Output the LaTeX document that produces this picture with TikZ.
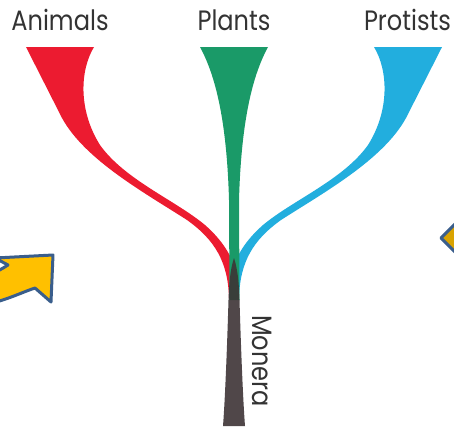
\documentclass[tikz,border=0pt]{standalone}
\usepackage{fontspec}
\setmainfont{Poppins}
\definecolor{cred}{HTML}{EC1B30}
\definecolor{cgreen}{HTML}{1A9A68}
\definecolor{cblue}{HTML}{22AEDE}
\definecolor{ctrunk}{HTML}{3D3436}
\definecolor{cyel}{HTML}{FFC000}
\definecolor{cyel2}{HTML}{D9A300}
\definecolor{cborder}{HTML}{3A5E8C}
\newcommand\sidebranch{(26,47) -- (62,118) .. controls (85,160) and (145,193) .. (187,220) .. controls (215,240) and (228,262) .. (229,298) -- (239,298) .. controls (239,270) and (231,248) .. (205,225) .. controls (175,200) and (125,180) .. (100,145) .. controls (78,110) and (80,70) .. (94,47) -- cycle}
\tikzset{
  labelbase/.style={font=\fontsize{28}{28}\selectfont, text=black!80, inner sep=0pt},
  label/.style={labelbase, anchor=base, xscale=0.86},
  arrowshape/.style={draw=cborder, line width=3pt, line join=round, fill=cyel}
}
\begin{document}
\begin{tikzpicture}[x=1pt,y=-1pt]
\useasboundingbox (0,0) rectangle (454,426);
\clip (0,0) rectangle (454,426);
\fill[white] (0,0) rectangle (454,426);
% side arrows
\path[arrowshape] (53,255) -- (-5,258) -- (8,265) .. controls (0,270) .. (-20,280) -- (-20,306) .. controls (5,301) and (20,293) .. (35,288) -- (51,302) -- cycle;
\path[arrowshape, fill=cyel2] (441,238) -- (456,223) -- (471,238) -- (456,253) -- cycle;
% branches
\fill[cred] \sidebranch;
\begin{scope}[shift={(468,0)}, xscale=-1]
\fill[cblue] \sidebranch;
\end{scope}
\fill[cgreen] (200,47) .. controls (218,80) and (227,130) .. (229,200) -- (229.5,300) -- (239.5,300) -- (239,200) .. controls (241,130) and (250,80) .. (268,47) -- cycle;
% trunk
\fill[ctrunk, opacity=0.9] (234,258) .. controls (230,270) and (229,285) .. (228.5,300) .. controls (227,350) and (225,400) .. (223,426) -- (245,426) .. controls (243,400) and (241,350) .. (239.5,300) .. controls (239,285) and (238,270) .. (234,258) -- cycle;
% labels
\node[label] (animals) at (60,30) {Animals};
\node[label] (plants) at (234,30) {Plants};
\node[label] (protists) at (407.5,30) {Protists};
\node[labelbase, anchor=center, rotate=-90, xscale=0.86] (monera) at (262,361) {Monera};
\end{tikzpicture}
\end{document}
